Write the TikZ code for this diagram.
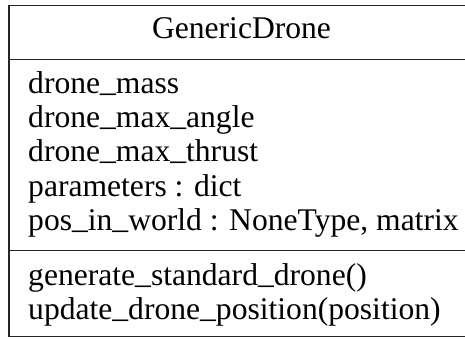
\documentclass[tikz,border=0pt]{standalone}
\usepackage{fontspec}
\setmainfont{Liberation Serif}
% underscore set a little higher, close to the baseline
\newcommand{\us}{\raisebox{0.07em}{\_}}
\begin{document}
\begin{tikzpicture}[x=1pt,y=-1pt,
  frame/.style={draw=black!85,line width=1.7pt},
  member/.style={anchor=base west,inner sep=0pt,font=\fontsize{31.6}{34.3}\selectfont},
  title/.style={anchor=base,inner sep=0pt,font=\fontsize{31.6}{34.3}\selectfont}]
\useasboundingbox (0,0) rectangle (465,338);
\clip (0,0) rectangle (465,338);
% class frame and compartment separators
\coordinate (tl) at (9,5.5);
\coordinate (br) at (480,336.5);
\draw[frame] (tl) rectangle (br);
\draw[frame] (9,59.5) -- (480,59.5);
\draw[frame] (9,250.5) -- (480,250.5);
% class name
\node[title] (name) at (241.5,38.3) {GenericDrone};
% attributes
\node[member] (a1) at (28,93.3) {drone\us mass};
\node[member] (a2) at (28,127.6) {drone\us max\us angle};
\node[member] (a3) at (28,161.9) {drone\us max\us thrust};
\node[member] (a4) at (28,196.2) {parameters : dict};
\node[member] (a5) at (28,230.5) {pos\us in\us world : NoneType, matrix};
% operations
\node[member] (m1) at (28,285.5) {generate\us standard\us drone()};
\node[member] (m2) at (28,319.8) {update\us drone\us position(position)};
\end{tikzpicture}
\end{document}
